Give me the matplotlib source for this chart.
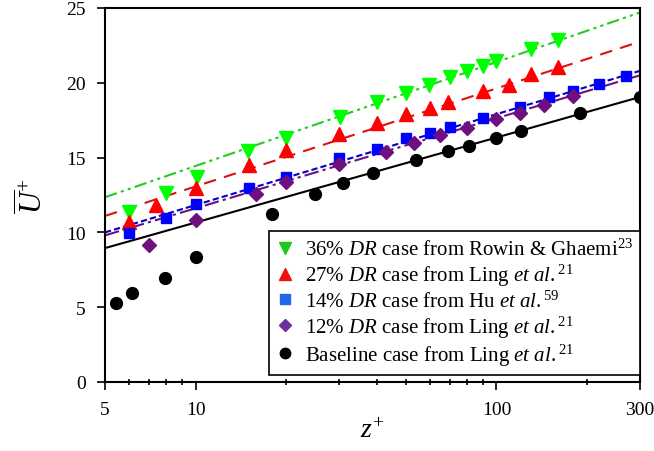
import numpy as np
import matplotlib
matplotlib.use("Agg")
import matplotlib.pyplot as plt
from matplotlib.lines import Line2D
from matplotlib.ticker import FixedLocator, NullFormatter

plt.rcParams['font.family'] = ['Liberation Serif', 'DejaVu Serif']
plt.rcParams['mathtext.fontset'] = 'custom'
plt.rcParams['mathtext.rm'] = 'Liberation Serif'
plt.rcParams['mathtext.it'] = 'Liberation Serif:italic'

# --- data ---
# 36% DR, Rowin & Ghaemi
z_36 = [6.0, 7.96, 10.1, 14.9, 20.0, 30.3, 40.0, 50.0, 59.6, 70.0, 80.0, 90.0, 99.7, 130, 160]
u_36 = [11.34, 12.6, 13.68, 15.42, 16.3, 17.69, 18.74, 19.3, 19.85, 20.37, 20.77, 21.15, 21.46, 22.26, 22.88]
# 27% DR, Ling et al.
z_27 = [6.0, 7.4, 10.0, 15.0, 20.0, 30.0, 40.0, 50.0, 60.0, 69.0, 90.0, 110, 130, 160]
u_27 = [10.7, 11.8, 13.0, 14.5, 15.5, 16.6, 17.3, 17.9, 18.3, 18.7, 19.45, 19.85, 20.6, 21.08]
# 14% DR, Hu et al.
z_14 = [6.0, 8.0, 10.0, 15.0, 20.0, 30.0, 40.0, 50.0, 60.0, 70.0, 90.0, 120, 150, 180, 220, 270]
u_14 = [9.96, 10.96, 11.9, 12.97, 13.72, 14.95, 15.57, 16.29, 16.62, 17.02, 17.65, 18.4, 19.03, 19.47, 19.9, 20.43]
# 12% DR, Ling et al.
z_12 = [7.0, 10.0, 15.9, 20.0, 30.0, 43.0, 53.0, 65.0, 80.0, 100, 120, 144, 180]
u_12 = [9.16, 10.85, 12.57, 13.4, 14.6, 15.4, 15.97, 16.5, 17.0, 17.6, 17.97, 18.5, 19.1]
# baseline, Ling et al.
z_0 = [5.44, 6.15, 7.92, 10.0, 18.0, 24.9, 30.8, 39.0, 54.0, 69.0, 81.0, 100, 121, 190, 300]
u_0 = [5.28, 5.95, 6.95, 8.36, 11.23, 12.57, 13.3, 14.0, 14.84, 15.44, 15.8, 16.3, 16.8, 18.0, 19.05]

# log-law fit lines, value at z+ = 5 and 300
z_fit = [5, 300]
fit_36 = [12.35, 24.7]
fit_27 = [11.1, 22.75]
fit_14 = [10.0, 20.8]
fit_12 = [9.8, 20.5]
fit_0 = [8.95, 19.05]

labels = [r'36% $\mathit{DR}$ case from Rowin & Ghaemi$^{23}$',
          r'27% $\mathit{DR}$ case from Ling $\mathit{et\ al.}^{21}$',
          r'14% $\mathit{DR}$ case from Hu $\mathit{et\ al.}^{59}$',
          r'12% $\mathit{DR}$ case from Ling $\mathit{et\ al.}^{21}$',
          r'Baseline case from Ling $\mathit{et\ al.}^{21}$']

fig = plt.figure(figsize=(6.54, 4.52), dpi=100)
ax = fig.add_axes([0.1606, 0.1527, 0.8180, 0.8274])

green = '#00ff00'
red = '#ff0000'
blue = '#0000ff'
purple = '#6e1080'

# fits
ax.plot(z_fit, fit_36, color='#22cc22', lw=1.5, dashes=(6, 2, 1.5, 2, 1.5, 2))
ax.plot(z_fit, fit_27, color='#dd1111', lw=1.5, dashes=(6, 4))
ax.plot(z_fit, fit_14, color='#0000cc', lw=1.5, dashes=(3, 1.5))
ax.plot(z_fit, fit_12, color=purple, lw=1.5, dashes=(7, 2, 1.5, 2))
ax.plot(z_fit, fit_0, color='black', lw=1.5)

# data
ax.plot(z_36, u_36, 'v', color=green, ms=10, ls='none', zorder=5)
ax.plot(z_27, u_27, '^', color=red, ms=10, ls='none', zorder=5)
ax.plot(z_14, u_14, 's', color=blue, ms=7, ls='none', zorder=5)
ax.plot(z_12, u_12, 'D', color=purple, ms=7.5, ls='none', zorder=5)
ax.plot(z_0, u_0, 'o', color='black', ms=8.5, ls='none', zorder=5)

ax.set_xscale('log')
ax.set_xlim(5, 300)
ax.set_ylim(0, 25)

ax.xaxis.set_major_locator(FixedLocator([5, 10, 100, 300]))
ax.set_xticklabels(['5', '10', '100', '300'])
ax.xaxis.set_minor_locator(FixedLocator([6, 7, 8, 9, 20, 30, 40, 50, 60, 70, 80, 90, 200]))
ax.xaxis.set_minor_formatter(NullFormatter())
ax.set_yticks([0, 5, 10, 15, 20, 25])

ax.tick_params(axis='both', which='major', direction='out', length=6, width=1.2,
               labelsize=14, pad=8)
ax.tick_params(axis='x', which='minor', direction='inout', length=5, width=1.2)
ax.tick_params(top=False, right=False)
for s in ax.spines.values():
    s.set_linewidth(1.5)

ax.set_xlabel(r'$z^{+}$', fontsize=20, labelpad=0)
ax.set_ylabel(r'$\overline{U}^{+}$', fontsize=22, labelpad=12)

# legend (markers only, slightly lighter tones as in the original)
handles = [Line2D([], [], marker='v', color='#1ec81e', ls='none', ms=9),
           Line2D([], [], marker='^', color='#ee1111', ls='none', ms=9),
           Line2D([], [], marker='s', color='#2266ee', ls='none', ms=6.5),
           Line2D([], [], marker='D', color='#6a2ea0', ls='none', ms=6.5),
           Line2D([], [], marker='o', color='black', ls='none', ms=7.5)]
leg = ax.legend(handles, labels, loc='lower right', bbox_to_anchor=(1.0, 0.018),
                borderaxespad=0, fontsize=15, frameon=True, fancybox=False,
                edgecolor='black', framealpha=1, handlelength=0.8,
                handletextpad=0.55, labelspacing=0.1, borderpad=0.35)
leg.get_frame().set_linewidth(1.2)

fig.savefig('out.png', dpi=100)
